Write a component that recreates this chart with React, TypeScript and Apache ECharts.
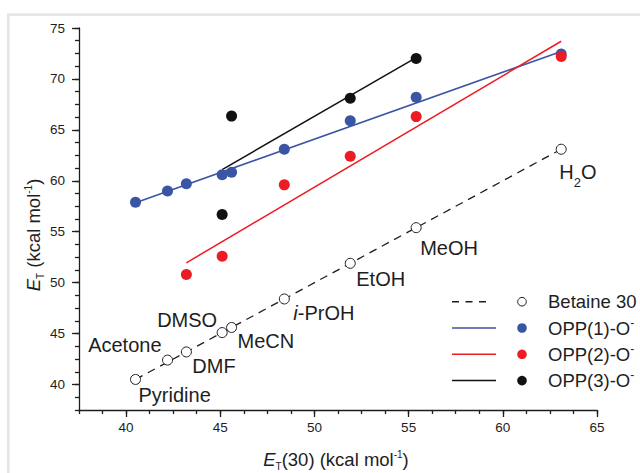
import React, { useEffect, useRef } from 'react';
import * as echarts from 'echarts';

// ---------- data ----------
const solvents = ['Pyridine', 'Acetone', 'DMF', 'DMSO', 'MeCN', 'i-PrOH', 'EtOH', 'MeOH', 'H2O'];
const et30 = [40.5, 42.2, 43.2, 45.1, 45.6, 48.4, 51.9, 55.4, 63.1];
const betaine30 = [40.5, 42.4, 43.2, 45.1, 45.6, 48.4, 51.9, 55.4, 63.1];
const opp1 = [57.9, 59.0, 59.7, 60.6, 60.85, 63.1, 65.9, 68.2, 72.45];
const opp2X = [43.2, 45.1, 48.4, 51.9, 55.4, 63.1];
const opp2 = [50.8, 52.6, 59.6, 62.4, 66.3, 72.2];
const opp3X = [45.1, 45.6, 51.9, 55.4];
const opp3 = [56.7, 66.35, 68.1, 72.0];
const betaineFitX = [40.5, 63.1];
const betaineFitY = [40.5, 63.1];
const opp1FitX = [40.5, 63.1];
const opp1FitY = [57.85, 72.7];
const opp2FitX = [43.2, 63.1];
const opp2FitY = [51.95, 73.7];
const opp3FitX = [45.1, 55.4];
const opp3FitY = [61.1, 72.1];
const legendNames = ['Betaine 30', 'OPP(1)-O', 'OPP(2)-O', 'OPP(3)-O'];

// ---------- layout / style ----------
const FONT = '"Liberation Sans", Arial, Helvetica, sans-serif';
const INK = '#1e1e1e';
const BLUE = '#3b55a5';
const RED = '#ed1c24';
const BLACK = '#111111';
const labelAlign = ['left', 'right', 'left', 'right', 'left', 'left', 'left', 'left', 'left'];
const labelDx = [3, -6, 6, -5, 6, 9, 6, 4, -2];
const labelDy = [16, -15, 14, -13, 14, 14, 16, 20, 23];

const zip = (xs: number[], ys: number[]) => xs.map((x, i) => [x, ys[i]]);

const labelRich = {
  n: { fontSize: 20, lineHeight: 24, fontFamily: FONT, color: INK },
  i: { fontSize: 20, lineHeight: 24, fontFamily: FONT, color: INK, fontStyle: 'italic' },
  s: { fontSize: 13, lineHeight: 24, fontFamily: FONT, color: INK, padding: [20, 0, 0, 0] },
};

const richName = (name: string) => {
  if (name === 'H2O') return '{n|H}{s|2}{n|O}';
  if (name === 'i-PrOH') return '{i|i}{n|-PrOH}';
  return '{n|' + name + '}';
};

const titleRich = {
  e: { fontSize: 18.5, lineHeight: 22, fontFamily: FONT, fill: INK, color: INK, fontStyle: 'italic' },
  n: { fontSize: 18.5, lineHeight: 22, fontFamily: FONT, fill: INK, color: INK },
  sub: { fontSize: 10, lineHeight: 22, fontFamily: FONT, fill: INK, color: INK, padding: [14, 0, 0, 0] },
  sup: { fontSize: 10, lineHeight: 22, fontFamily: FONT, fill: INK, color: INK, padding: [0, 0, 11, 0] },
};

const legendRich = {
  n: { fontSize: 18.5, lineHeight: 22, fontFamily: FONT, fill: INK, color: INK },
  sup: { fontSize: 12, lineHeight: 22, fontFamily: FONT, fill: INK, color: INK, padding: [0, 0, 11, 0] },
};

const legendColors = [INK, BLUE, RED, BLACK];

function buildLegend() {
  const els: any[] = [];
  legendNames.forEach((name, i) => {
    const y = 301.7 + i * 26.3;
    els.push({
      type: 'line',
      shape: { x1: 452, y1: y, x2: i === 0 ? 487 : 496, y2: y },
      style: { stroke: legendColors[i], lineWidth: 1.5, lineDash: i === 0 ? [7, 6.5] : null },
    });
    els.push({
      type: 'circle',
      shape: { cx: 522, cy: y, r: i === 0 ? 4.3 : 4.8 },
      style: i === 0 ? { fill: '#fff', stroke: INK, lineWidth: 1 } : { fill: legendColors[i] },
    });
    els.push({
      type: 'text',
      x: 548,
      y: y,
      style: {
        text: i === 0 ? '{n|' + name + '}' : '{n|' + name + '}{sup|-}',
        rich: legendRich,
        align: 'left',
        verticalAlign: 'middle',
      },
    });
  });
  return els;
}

const axisLineStyle = { color: INK, width: 1.3 };

const option: any = {
  animation: false,
  backgroundColor: '#ffffff',
  grid: { left: 79, top: 28, width: 518, height: 382, containLabel: false },
  xAxis: [
    {
      type: 'value', min: 37.5, max: 65, splitNumber: 5,
      axisLine: { show: true, onZero: false, lineStyle: axisLineStyle },
      axisTick: { show: true, length: 7, lineStyle: axisLineStyle },
      axisLabel: { showMinLabel: false, fontSize: 13.5, fontFamily: FONT, color: INK, margin: 10 },
      splitLine: { show: false },
    },
    {
      type: 'value', min: 37.5, max: 65, interval: 1.25, position: 'bottom',
      axisLine: { show: false, onZero: false },
      axisTick: { show: true, length: 4, lineStyle: axisLineStyle },
      axisLabel: { show: false },
      splitLine: { show: false },
    },
  ],
  yAxis: [
    {
      type: 'value', min: 37.5, max: 75, splitNumber: 7,
      axisLine: { show: true, onZero: false, lineStyle: axisLineStyle },
      axisTick: { show: true, length: 7, lineStyle: axisLineStyle },
      axisLabel: { showMinLabel: false, fontSize: 13.5, fontFamily: FONT, color: INK, margin: 14 },
      splitLine: { show: false },
    },
    {
      type: 'value', min: 37.5, max: 75, interval: 1.25, position: 'left',
      axisLine: { show: false, onZero: false },
      axisTick: { show: true, length: 4, lineStyle: axisLineStyle },
      axisLabel: { show: false },
      splitLine: { show: false },
    },
  ],
  graphic: [
    {
      type: 'rect', z: -10, silent: true,
      shape: { x: 8.3, y: 14.7, width: 700, height: 500 },
      style: { fill: 'none', stroke: '#e6e6e6', lineWidth: 2.7 },
    },
    {
      type: 'text', x: 336, y: 459.5,
      style: {
        text: '{e|E}{sub|T}{n|(30) (kcal mol}{sup|-1}{n|)}',
        rich: titleRich, align: 'center', verticalAlign: 'middle',
      },
    },
    {
      type: 'text', x: 33.5, y: 235, rotation: Math.PI / 2,
      style: {
        text: '{e|E}{sub|T}{n| (kcal mol}{sup|-1}{n|)}',
        rich: titleRich, align: 'center', verticalAlign: 'middle',
      },
    },
    ...buildLegend(),
  ],
  series: [
    {
      type: 'line', name: 'Betaine 30 fit', data: zip(betaineFitX, betaineFitY),
      symbol: 'none', z: 2, lineStyle: { color: INK, width: 1.3, type: [8, 6] },
    },
    {
      type: 'line', name: 'OPP(1) fit', data: zip(opp1FitX, opp1FitY),
      symbol: 'none', z: 2, lineStyle: { color: BLUE, width: 1.5 },
    },
    {
      type: 'line', name: 'OPP(2) fit', data: zip(opp2FitX, opp2FitY),
      symbol: 'none', z: 2, lineStyle: { color: RED, width: 1.5 },
    },
    {
      type: 'line', name: 'OPP(3) fit', data: zip(opp3FitX, opp3FitY),
      symbol: 'none', z: 2, lineStyle: { color: BLACK, width: 1.5 },
    },
    {
      type: 'scatter', name: 'Betaine 30', symbolSize: 10, z: 4,
      itemStyle: { color: '#ffffff', borderColor: INK, borderWidth: 1, opacity: 1 },
      data: et30.map((x, i) => ({
        value: [x, betaine30[i]],
        label: {
          show: true, position: 'inside', align: labelAlign[i], verticalAlign: 'middle',
          offset: [labelDx[i], labelDy[i]],
          formatter: () => richName(solvents[i]),
          rich: labelRich,
        },
      })),
    },
    {
      type: 'scatter', name: 'OPP(1)-O', symbolSize: 11, z: 4,
      itemStyle: { color: BLUE, opacity: 1 }, data: zip(et30, opp1),
    },
    {
      type: 'scatter', name: 'OPP(2)-O', symbolSize: 11, z: 5,
      itemStyle: { color: RED, opacity: 1 }, data: zip(opp2X, opp2),
    },
    {
      type: 'scatter', name: 'OPP(3)-O', symbolSize: 11, z: 5,
      itemStyle: { color: BLACK, opacity: 1 }, data: zip(opp3X, opp3),
    },
  ],
};

export default function App() {
  const ref = useRef<HTMLDivElement>(null);
  useEffect(() => {
    if (!ref.current) return;
    const chart = echarts.init(ref.current, null, { renderer: 'svg' });
    chart.setOption(option);
    return () => chart.dispose();
  }, []);
  return (
    <div
      ref={ref}
      style={{ position: 'absolute', left: 0, top: 0, width: 640, height: 473, background: '#fff' }}
    />
  );
}
